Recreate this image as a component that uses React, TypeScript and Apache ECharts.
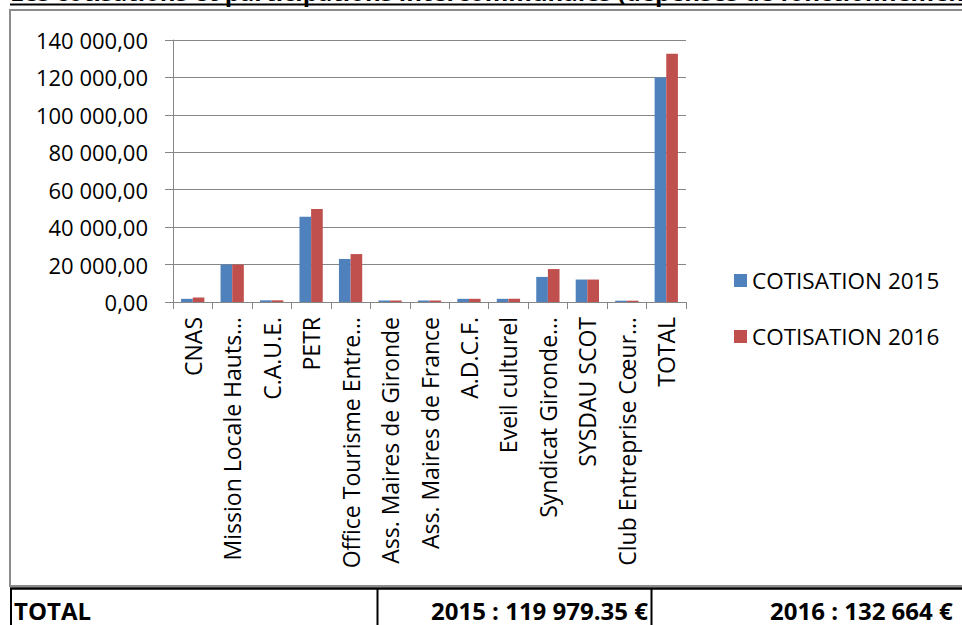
import React, { useEffect, useRef } from "react";
import * as echarts from "echarts";

// Cotisations et participations intercommunales, 2015 vs 2016
const categories = [
  "CNAS",
  "Mission Locale Hauts…",
  "C.A.U.E.",
  "PETR",
  "Office Tourisme Entre…",
  "Ass. Maires de Gironde",
  "Ass. Maires de France",
  "A.D.C.F.",
  "Eveil culturel",
  "Syndicat Gironde…",
  "SYSDAU SCOT",
  "Club Entreprise Cœur…",
  "TOTAL",
];

const total2015 = 119979.35;
const total2016 = 132664;

const cotisation2015 = [1700, 20000, 900, 45600, 23000, 800, 800, 1700, 1700, 13400, 12000, 700, total2015];
const cotisation2016 = [2400, 20000, 900, 49700, 25600, 800, 800, 1700, 1700, 17600, 12000, 700, total2016];

const seriesNames = ["COTISATION 2015", "COTISATION 2016"];
const seriesColors = ["#4F81BD", "#C0504D"];

const yMin = 0;
const yMax = 140000;
const yStep = 20000;

const pageTitle =
  "Les cotisations et participations intercommunales (dépenses de fonctionnement)";

const groupThousands = (n: number) =>
  Math.trunc(n).toString().replace(/\B(?=(\d{3})+(?!\d))/g, " ");

// axis ticks: "140 000,00"
const axisNumber = (v: number) => groupThousands(v) + ",00";

// table amounts: "119 979.35"
const tableAmount = (v: number) => {
  const cents = Math.round((v - Math.trunc(v)) * 100);
  return groupThousands(v) + (cents ? "." + String(cents).padStart(2, "0") : "");
};

const FONT = '"Open Sans", "Liberation Sans", sans-serif';

export default function App() {
  const ref = useRef<HTMLDivElement>(null);

  useEffect(() => {
    if (!ref.current) return;
    const chart = echarts.init(ref.current, undefined, { renderer: "svg" });

    chart.setOption({
      animation: false,
      backgroundColor: "#ffffff",
      textStyle: { fontFamily: FONT, color: "#000" },
      grid: { left: 173, right: 276, top: 40, bottom: 323, containLabel: false },
      legend: {
        orient: "vertical",
        left: 729,
        top: 264,
        itemWidth: 13,
        itemHeight: 13,
        itemGap: 33,
        icon: "rect",
        data: seriesNames,
        textStyle: { fontSize: 22.5, color: "#000", fontFamily: FONT },
      },
      xAxis: {
        type: "category",
        data: categories,
        axisLine: { lineStyle: { color: "#868686", width: 1 } },
        axisTick: { show: true, length: 7, lineStyle: { color: "#868686" } },
        axisLabel: {
          interval: 0,
          rotate: 90,
          margin: 15,
          fontSize: 23,
          color: "#000",
          fontFamily: FONT,
        },
      },
      yAxis: {
        type: "value",
        min: yMin,
        max: yMax,
        interval: yStep,
        axisLine: { show: true, lineStyle: { color: "#868686", width: 1 } },
        axisTick: { show: true, length: 8, lineStyle: { color: "#868686" } },
        splitLine: { lineStyle: { color: "#868686", width: 1 } },
        axisLabel: {
          margin: 25,
          fontSize: 22,
          color: "#000",
          fontFamily: FONT,
          formatter: axisNumber,
        },
      },
      series: [
        {
          name: seriesNames[0],
          type: "bar",
          data: cotisation2015,
          itemStyle: { color: seriesColors[0] },
          barGap: "0%",
          barCategoryGap: "41%",
        },
        {
          name: seriesNames[1],
          type: "bar",
          data: cotisation2016,
          itemStyle: { color: seriesColors[1] },
          barGap: "0%",
          barCategoryGap: "41%",
        },
      ],
      graphic: [
        {
          type: "text",
          x: 10,
          y: 3,
          style: {
            text: pageTitle,
            font: `bold 24px ${FONT}`,
            fill: "#000",
            verticalAlign: "bottom",
          },
        },
        {
          type: "line",
          shape: { x1: 10, y1: 4.5, x2: 962, y2: 4.5 },
          style: { stroke: "#000", lineWidth: 2 },
        },
        {
          type: "rect",
          shape: { x: 10, y: 10, width: 1000, height: 576 },
          style: { fill: "none", stroke: "#8c8c8c", lineWidth: 2 },
        },
        {
          type: "line",
          shape: { x1: 10, y1: 588.5, x2: 962, y2: 588.5 },
          style: { stroke: "#000", lineWidth: 2.5 },
        },
        {
          type: "line",
          shape: { x1: 11, y1: 588, x2: 11, y2: 625 },
          style: { stroke: "#000", lineWidth: 2 },
        },
        {
          type: "line",
          shape: { x1: 377.5, y1: 588, x2: 377.5, y2: 625 },
          style: { stroke: "#000", lineWidth: 2 },
        },
        {
          type: "line",
          shape: { x1: 651.5, y1: 588, x2: 651.5, y2: 625 },
          style: { stroke: "#000", lineWidth: 2 },
        },
        {
          type: "text",
          x: 14,
          y: 610,
          style: {
            text: "TOTAL",
            font: `bold 24px ${FONT}`,
            fill: "#000",
            verticalAlign: "middle",
          },
        },
        {
          type: "text",
          x: 648,
          y: 610,
          style: {
            text: "2015 : " + tableAmount(total2015) + " €",
            font: `bold 24px ${FONT}`,
            fill: "#000",
            align: "right",
            verticalAlign: "middle",
          },
        },
        {
          type: "text",
          x: 770,
          y: 610,
          style: {
            text: "2016 : " + tableAmount(total2016) + " €",
            font: `bold 24px ${FONT}`,
            fill: "#000",
            verticalAlign: "middle",
          },
        },
      ],
    });

    return () => chart.dispose();
  }, []);

  return (
    <div
      ref={ref}
      style={{ position: "fixed", left: 0, top: 0, width: 962, height: 625 }}
    />
  );
}
